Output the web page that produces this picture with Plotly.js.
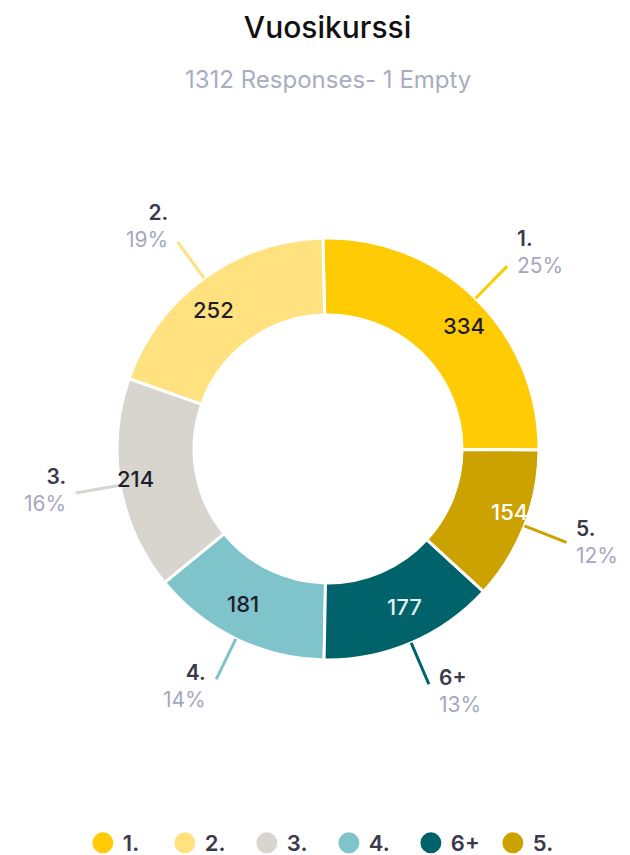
<!DOCTYPE html>
<html>
<head>
<meta charset="utf-8">
<script src="https://cdn.plot.ly/plotly-3.0.1.min.js"></script>
<style>html,body{margin:0;padding:0;background:#fff}#chart{width:630px;height:855px}</style>
</head>
<body>
<div id="chart"></div>
<script>
// ---- data ----
const labels = ['1.', '2.', '3.', '4.', '6+', '5.'];
const values = [334, 252, 214, 181, 177, 154];
const colors = ['#FFCB05', '#FFE27F', '#D7D5CE', '#7FC4CA', '#00626A', '#CBA200'];
const valueTextColors = ['#1d1d2b', '#1d1d2b', '#1d1d2b', '#1d1d2b', '#e3f1f2', '#ffffff'];
const chartTitle = 'Vuosikurssi';
const chartSubtitle = '1312 Responses- 1 Empty';

// ---- layout helpers ----
const FONT = 'Inter, Roboto, "DejaVu Sans", sans-serif';
const W = 630, H = 855;
const cx = 328, cy = 449, R = 211;
const HOLE = 0.635;
const total = values.reduce((a, b) => a + b, 0);
const startOffset = -1.4;                       // first slice begins just left of 12 o'clock
const firstEnd = 360 * values[0] / total + startOffset; // clockwise-from-top angle where slice 1 ends

function px2paper(x, y) { return [x / W, 1 - y / H]; }

const shapes = [];
const annotations = [];
let cum = 0;
values.forEach((v, i) => {
  const midFrac = (cum + v / 2) / total;
  cum += v;
  const theta = (firstEnd - midFrac * 360) * Math.PI / 180; // clockwise from top
  const s = Math.sin(theta), c = Math.cos(theta);
  // leader line
  const p0 = px2paper(cx + R * s, cy - R * c);
  const x1 = cx + 256 * s, y1 = cy - 256 * c;
  const p1 = px2paper(x1, y1);
  shapes.push({type: 'line', xref: 'paper', yref: 'paper', x0: p0[0], y0: p0[1], x1: p1[0], y1: p1[1],
    line: {color: colors[i], width: 3}});
  // outside label: category + percent
  const right = s >= 0;
  const pt = px2paper(x1 + (right ? 8 : -8), y1);
  const pct = Math.round(v / total * 100);
  annotations.push({
    xref: 'paper', yref: 'paper', x: pt[0], y: pt[1],
    xanchor: right ? 'left' : 'right', yanchor: 'middle', align: right ? 'left' : 'right',
    yshift: 5 + 13 * c,
    showarrow: false,
    text: labels[i] + '<br><span style="color:#a4a8bf;font-weight:400">' + pct + '%</span>',
    font: {family: FONT, size: 21, color: '#3a3a4c', weight: 600}
  });
  // value label inside the ring
  const pv = px2paper(cx + 195 * s, cy - 172 * c);
  annotations.push({
    xref: 'paper', yref: 'paper', x: pv[0], y: pv[1], xanchor: 'center', yanchor: 'middle',
    showarrow: false, text: String(v),
    font: {family: FONT, size: 22, color: valueTextColors[i], weight: 500}
  });
});

annotations.push({
  xref: 'paper', yref: 'paper', x: 0.52, y: 1 - 79 / H, xanchor: 'center', yanchor: 'middle',
  showarrow: false, text: chartSubtitle,
  font: {family: FONT, size: 24, color: '#a9adc2'}
});

const pie = {
  type: 'pie', labels: labels, values: values, hole: HOLE, sort: false,
  direction: 'counterclockwise', rotation: startOffset,
  marker: {colors: colors, line: {color: '#ffffff', width: 3}},
  textinfo: 'none', textposition: 'none',
  domain: {x: [(cx - R) / W, (cx + R) / W], y: [1 - (cy + R) / H, 1 - (cy - R) / H]},
  showlegend: false, hoverinfo: 'none'
};

const legendTraces = labels.map((l, i) => ({
  type: 'scatter', mode: 'markers', x: [null], y: [null], name: l,
  marker: {color: colors[i], size: 18, symbol: 'circle', line: {color: colors[i], width: 9}},
  hoverinfo: 'skip', showlegend: true
}));

const layout = {
  width: W, height: H,
  margin: {l: 0, r: 0, t: 0, b: 0, autoexpand: false},
  paper_bgcolor: '#ffffff', plot_bgcolor: '#ffffff',
  title: {text: chartTitle, x: 0.52, xanchor: 'center', xref: 'paper', y: 1 - 27 / H, yanchor: 'middle', yref: 'container',
    font: {family: FONT, size: 30, color: '#111111', weight: 500}},
  xaxis: {visible: false}, yaxis: {visible: false},
  showlegend: true,
  legend: {orientation: 'h', x: 0.522, xanchor: 'center', y: 12 / H, yanchor: 'middle',
    entrywidth: 37, entrywidthmode: 'pixels',
    font: {family: FONT, size: 22, color: '#3a3a4c', weight: 600}, bgcolor: 'rgba(0,0,0,0)'},
  shapes: shapes,
  annotations: annotations
};

Plotly.newPlot('chart', [pie].concat(legendTraces), layout, {displayModeBar: false, staticPlot: true});
</script>
</body>
</html>
